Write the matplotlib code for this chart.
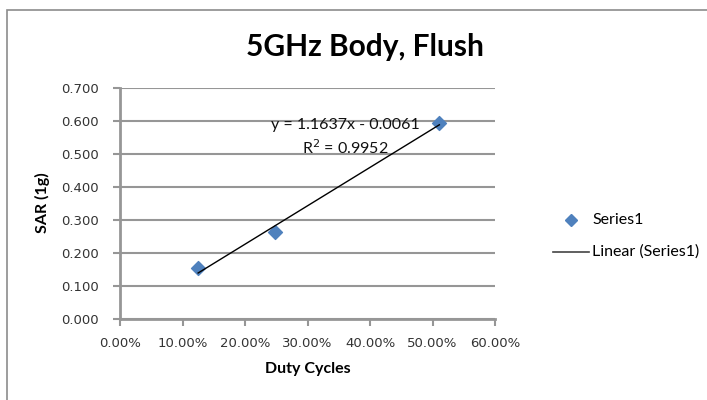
import matplotlib.pyplot as plt
import matplotlib.patches as patches
import numpy as np

# duty cycle vs SAR (1g)
duty = np.array([0.125, 0.248, 0.511])
sar = np.array([0.155, 0.265, 0.595])

# trendline as printed on chart
slope = 1.1637
intercept = -0.0061
eq_text = 'y = 1.1637x - 0.0061'
r2_text = 'R$^2$ = 0.9952'

fig = plt.figure(figsize=(7.07, 4.0), dpi=100)
ax = fig.add_axes([120 / 707, 1 - 319 / 400, 375 / 707, 231 / 400])

grid_col = '#969696'
ax.set_xlim(0, 0.6)
ax.set_ylim(0, 0.7)
ax.set_xticks(np.arange(0, 0.61, 0.1))
ax.set_yticks(np.arange(0, 0.71, 0.1))
ax.set_xticklabels(['%.2f%%' % (v * 100) for v in np.arange(0, 0.61, 0.1)])
ax.set_yticklabels(['%.3f' % v for v in np.arange(0, 0.71, 0.1)])
ax.yaxis.grid(True, color=grid_col, linewidth=1.5)
ax.set_axisbelow(True)
for s in ['top', 'right']:
    ax.spines[s].set_visible(False)
ax.spines['left'].set_color(grid_col)
ax.spines['left'].set_linewidth(2)
ax.spines['bottom'].set_color(grid_col)
ax.spines['bottom'].set_linewidth(2)
ax.tick_params(axis='both', colors=grid_col, width=1.5, length=5, labelcolor='#333333', labelsize=9.5)
ax.tick_params(axis='y', pad=10)
ax.tick_params(axis='x', pad=8)
for lab in ax.get_xticklabels() + ax.get_yticklabels():
    lab.set_family('DejaVu Sans')

# trendline
xl = np.array([duty.min(), duty.max()])
ax.plot(xl, slope * xl + intercept, color='black', linewidth=1, zorder=3)
ax.scatter(duty, sar, marker='D', s=50, color='#4f81bd', zorder=2, clip_on=False)

ax.text(0.361, 0.588, eq_text, ha='center', va='center', fontsize=11.5, family='Lato', color='#111111')
ax.text(0.361, 0.518, r2_text, ha='center', va='center', fontsize=11.5, family='Lato', color='#111111')

fig.text(365 / 707, 1 - 47 / 400, '5GHz Body, Flush', ha='center', va='center',
         fontsize=21.5, fontweight='bold', family='Lato')
fig.text(42 / 707, 1 - 203 / 400, 'SAR (1g)', rotation=90, ha='center', va='center',
         fontsize=11.5, fontweight='bold', family='Lato')
fig.text(308 / 707, 1 - 369 / 400, 'Duty Cycles', ha='center', va='center',
         fontsize=11.5, fontweight='bold', family='Lato')

# legend drawn by hand like the Excel one
fig.lines.append(plt.Line2D([571 / 707], [1 - 220 / 400], marker='D', markersize=6.5,
                            color='#4f81bd', linestyle='none', transform=fig.transFigure))
fig.lines.append(plt.Line2D([553 / 707, 589 / 707], [1 - 252 / 400, 1 - 252 / 400],
                            color='#444444', linewidth=1.2, transform=fig.transFigure))
fig.text(592 / 707, 1 - 220 / 400, 'Series1', ha='left', va='center', fontsize=11.5, family='Lato')
fig.text(592 / 707, 1 - 252 / 400, 'Linear (Series1)', ha='left', va='center', fontsize=11.5, family='Lato')

# chart area border
fig.patches.append(patches.Rectangle((7 / 707, -0.1), 1.2, 1 - 10 / 400 + 0.1, fill=False,
                                     edgecolor='#8c8c8c', linewidth=1.2, transform=fig.transFigure))

fig.savefig('out.png', dpi=100)
